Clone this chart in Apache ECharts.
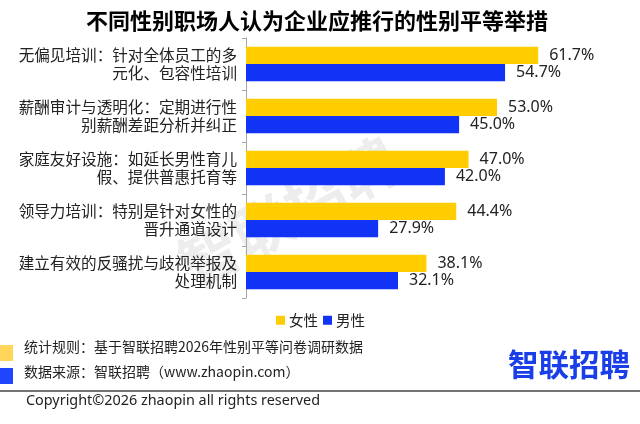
<!DOCTYPE html>
<html><head><meta charset="utf-8">
<script src="https://cdn.jsdelivr.net/npm/echarts@6/dist/echarts.min.js"></script>
<style>html,body{margin:0;padding:0;background:#fff}#c{width:640px;height:424px}</style>
</head><body><div id="c"></div>
<script>
var categories = [
  '无偏见培训：针对全体员工的多\n元化、包容性培训',
  '薪酬审计与透明化：定期进行性\n别薪酬差距分析并纠正',
  '家庭友好设施：如延长男性育儿\n假、提供普惠托育等',
  '领导力培训：特别是针对女性的\n晋升通道设计',
  '建立有效的反骚扰与歧视举报及\n处理机制'
];
var female = [61.7, 53.0, 47.0, 44.4, 38.1];
var male = [54.7, 45.0, 42.0, 27.9, 32.1];
var seriesNames = ['女性', '男性'];
var titleText = '不同性别职场人认为企业应推行的性别平等举措';
var noteLines = ['统计规则：基于智联招聘2026年性别平等问卷调研数据', '数据来源：智联招聘（www.zhaopin.com）'];
var copyrightText = 'Copyright©2026 zhaopin all rights reserved';
var logoText = '智联招聘';

var CJK = '"Noto Sans CJK SC", "Noto Sans", sans-serif';
var YEL = '#FFCD00', BLU = '#1033F5';
var chart = echarts.init(document.getElementById('c'), null, {renderer: 'canvas'});
chart.setOption({
  animation: false,
  backgroundColor: '#fff',
  textStyle: {fontFamily: CJK},
  title: {
    text: titleText, left: 312, top: 5, textAlign: 'center',
    textStyle: {fontSize: 22, fontWeight: 'bold', color: '#000', fontFamily: CJK}
  },
  legend: {
    data: seriesNames, left: 271, top: 308, itemWidth: 9, itemHeight: 9, itemGap: 5,
    icon: 'rect', textStyle: {fontSize: 14.5, color: '#222', fontFamily: CJK, padding: [0, 0, 0, -1]}
  },
  grid: {left: 246, top: 38, width: 331.5, height: 260, containLabel: false},
  xAxis: {type: 'value', min: 0, max: 70, show: false},
  yAxis: {
    type: 'category', data: categories, inverse: true,
    axisLine: {show: true, lineStyle: {color: '#A6A6A6', width: 1}},
    axisTick: {show: true, length: 4, lineStyle: {color: '#A6A6A6'}},
    axisLabel: {fontSize: 15.6, color: '#222', lineHeight: 18, margin: 9, align: 'right', fontFamily: CJK}
  },
  series: [
    {name: seriesNames[0], type: 'bar', data: female, barWidth: 17.3, barGap: '0%', barCategoryGap: '33%',
     itemStyle: {color: YEL}, z: 5,
     label: {show: true, position: 'right', distance: 11, formatter: function(p){return p.value.toFixed(1)+'%';},
             fontSize: 16, color: '#222', fontFamily: '"Noto Sans", sans-serif'}},
    {name: seriesNames[1], type: 'bar', data: male, barWidth: 17.3, barGap: '0%',
     itemStyle: {color: BLU}, z: 5,
     label: {show: true, position: 'right', distance: 11, formatter: function(p){return p.value.toFixed(1)+'%';},
             fontSize: 16, color: '#222', fontFamily: '"Noto Sans", sans-serif'}}
  ],
  graphic: [
    {type: 'text', x: 198, y: 296, rotation: 0.5, z: 0, silent: true,
     style: {text: logoText, fontSize: 60, fontWeight: 'bold', fill: 'rgba(0,0,0,0.07)', fontFamily: CJK, verticalAlign: 'bottom'}},
    {type: 'rect', shape: {x: 0, y: 345, width: 13, height: 16}, style: {fill: '#FFD55A'}},
    {type: 'rect', shape: {x: 0, y: 368, width: 13, height: 16}, style: {fill: '#1F45FF'}},
    {type: 'text', x: 24, y: 347, style: {text: noteLines[0], fontSize: 14, fill: '#222', fontFamily: CJK, verticalAlign: 'middle'}},
    {type: 'text', x: 24, y: 372, style: {text: noteLines[1], fontSize: 14, fill: '#222', fontFamily: CJK, verticalAlign: 'middle'}},
    {type: 'text', x: 508, y: 364, style: {text: logoText, fontSize: 30.5, fontWeight: 'bold', fill: '#1A3FE8', fontFamily: CJK, verticalAlign: 'middle'}},
    {type: 'line', shape: {x1: 0, y1: 391, x2: 640, y2: 391}, style: {stroke: '#444', lineWidth: 1.5}},
    {type: 'text', x: 26, y: 401, style: {text: copyrightText, fontSize: 14.4, fill: '#222', fontFamily: '"Noto Sans", sans-serif', verticalAlign: 'middle'}}
  ]
});
</script></body></html>
